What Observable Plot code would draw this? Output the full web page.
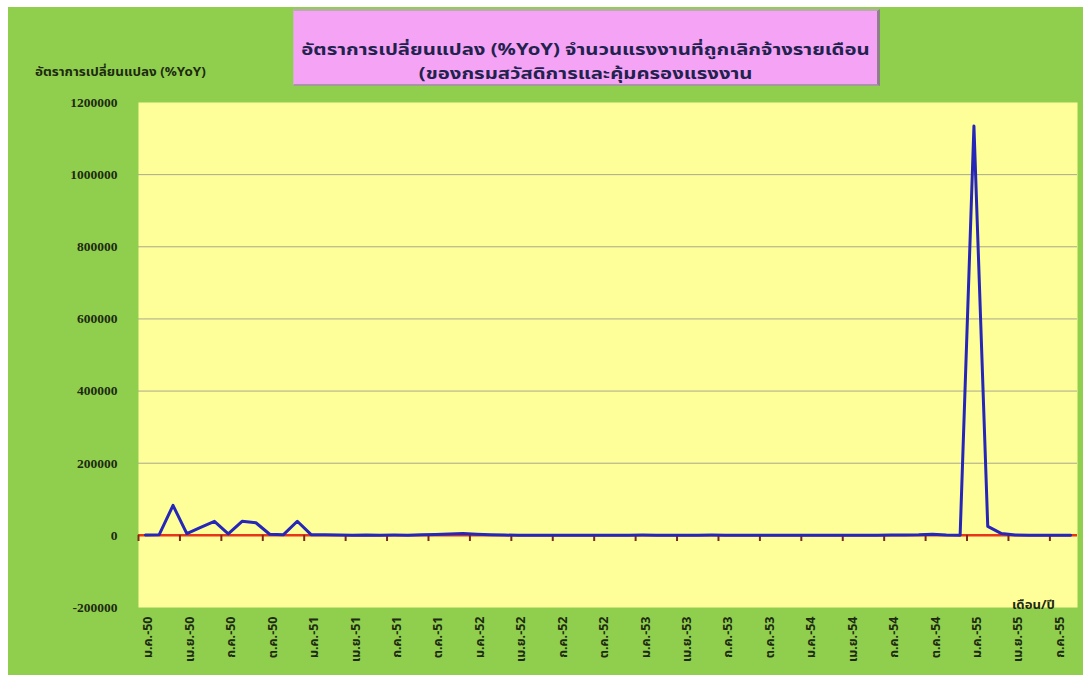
<!DOCTYPE html>
<html>
<head>
<meta charset="utf-8">
<script src="https://cdn.jsdelivr.net/npm/d3@7"></script>
<script src="https://cdn.jsdelivr.net/npm/@observablehq/plot@0.6"></script>
<style>
  html, body { margin: 0; padding: 0; background: #ffffff; }
  #wrap { position: relative; width: 1083px; height: 677px; overflow: hidden; font-family: "Noto Sans Thai", Tahoma, "DejaVu Sans", sans-serif; }
  #green { position: absolute; left: 8px; top: 7px; width: 1075px; height: 668px; background: #90cf4e; }
  #chart { position: absolute; left: 0; top: 0; }
  #title { position: absolute; left: 293px; top: 9px; width: 587px; height: 77px; background: #f5a3f5;
           border-top: 2px solid #b9a9b3; border-right: 3px solid #8e7f8a; border-bottom: 2px solid #a995a6; border-left: 1px solid #c7b7c3;
           box-sizing: border-box; color: #22224e; }
  .tl { position: absolute; left: 0; width: 100%; text-align: center; font-weight: bold; font-size: 18px; line-height: 20px; white-space: nowrap; }
  .tl span { display: inline-block; transform: scale(1.13, 0.86); transform-origin: center; }
  #ytitle { position: absolute; left: 35px; top: 63px; font-size: 12px; font-weight: bold; color: #1e2a10; white-space: nowrap; transform: scaleX(1.12); transform-origin: left center; }
  #xtitle { position: absolute; left: 1012px; top: 596px; font-size: 12px; font-weight: bold; color: #1e2a10; white-space: nowrap; transform: scaleX(1.1); transform-origin: left center; }
</style>
</head>
<body>
<div id="wrap">
  <div id="green"></div>
  <div id="chart"></div>
  <div id="title">
    <div class="tl" style="top:30px"><span>อัตราการเปลี่ยนแปลง (%YoY) จำนวนแรงงานที่ถูกเลิกจ้างรายเดือน</span></div>
    <div class="tl" style="top:54px"><span>(ของกรมสวัสดิการและคุ้มครองแรงงาน</span></div>
  </div>
  <div id="ytitle">อัตราการเปลี่ยนแปลง (%YoY)</div>
  <div id="xtitle">เดือน/ปี</div>
</div>
<script>
// Quarterly tick labels (every 3rd month, starting ม.ค.-50)
const tickLabels = [
  "ม.ค.-50","เม.ย.-50","ก.ค.-50","ต.ค.-50",
  "ม.ค.-51","เม.ย.-51","ก.ค.-51","ต.ค.-51",
  "ม.ค.-52","เม.ย.-52","ก.ค.-52","ต.ค.-52",
  "ม.ค.-53","เม.ย.-53","ก.ค.-53","ต.ค.-53",
  "ม.ค.-54","เม.ย.-54","ก.ค.-54","ต.ค.-54",
  "ม.ค.-55","เม.ย.-55","ก.ค.-55"
];
// Monthly %YoY values (Jan 2550 - Aug 2555)
const yoyValues = [
  1000, 2000, 83000, 5000, 22000, 39000, 4000, 39000, 35000, 3000,
  2000, 39000, 2000, 1500, 800, 500, 1200, 600, 900, 400,
  1500, 2500, 4000, 5000, 3000, 1500, 800, 400, 600, 300,
  500, 200, 400, 600, 300, 500, 800, 400, 300, 200,
  500, 700, 300, 400, 600, 200, 300, 500, 400, 300,
  600, 400, 300, 500, 700, 900, 1500, 3000, 1200, 500,
  1135000, 25000, 5000, 800, 400, 600, 300, 500
];
const yTicks = [-200000, 0, 200000, 400000, 600000, 800000, 1000000, 1200000];

const data = yoyValues.map((v, i) => ({i, v}));
const labelData = tickLabels.map((t, k) => ({m: k * 3, t}));
const boundaries = tickLabels.map((t, k) => k * 3 - 0.5);

const chart = Plot.plot({
  width: 1083,
  height: 677,
  marginLeft: 138,
  marginRight: 6,
  marginTop: 102,
  marginBottom: 70,
  x: {type: "linear", domain: [-0.5, yoyValues.length - 0.5], axis: null},
  y: {domain: [-200000, 1200000], axis: null},
  style: {background: "transparent", overflow: "visible"},
  marks: [
    Plot.frame({fill: "#ffff99", stroke: null}),
    Plot.ruleY(yTicks.filter(d => d > 0 && d < 1200000), {stroke: "#a8a88c", strokeWidth: 1}),
    Plot.ruleY([0], {stroke: "#e8361c", strokeWidth: 2.5}),
    Plot.ruleX(boundaries, {y1: 0, y2: -17000, stroke: "#7a2a1a", strokeWidth: 2}),
    Plot.line(data, {x: "i", y: "v", stroke: "#2626b8", strokeWidth: 3}),
    Plot.text(yTicks, {x: -0.5, y: d => d, text: d => String(d), textAnchor: "end", dx: -21,
      fontFamily: "Liberation Serif", fontWeight: "bold", fontSize: 13.5, fill: "#1e2a10"}),
    Plot.text(labelData, {x: "m", y: -200000, text: "t", rotate: -90, textAnchor: "end", dy: 9, dx: 3,
      fontFamily: "'Noto Sans Thai', Tahoma, 'DejaVu Sans', sans-serif", fontWeight: "bold", fontSize: 12.5, fill: "#1e2a10"})
  ]
});
document.getElementById("chart").appendChild(chart);
</script>
</body>
</html>
